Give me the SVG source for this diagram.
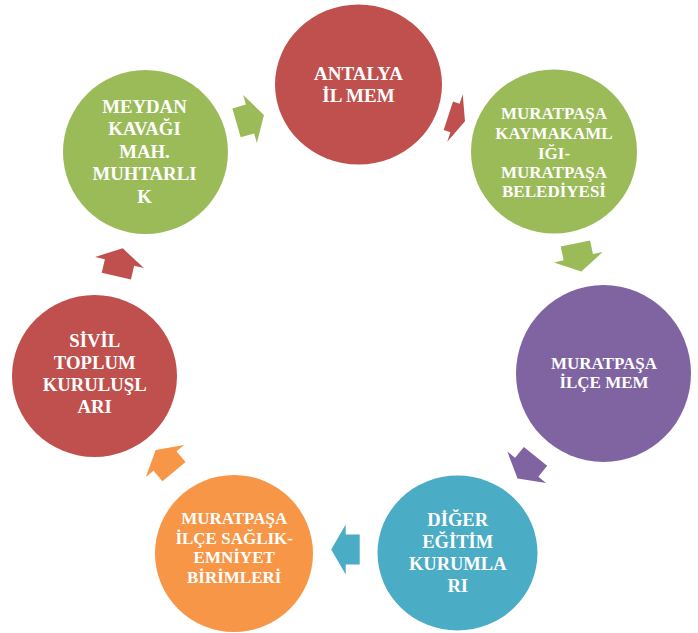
<svg xmlns="http://www.w3.org/2000/svg" xmlns:xlink="http://www.w3.org/1999/xlink" width="698" height="633" viewBox="0 0 698 633">
<style>
.t{font-family:"Liberation Serif","Times New Roman",serif;font-weight:bold;fill:#FFFFFF;text-anchor:middle}
.red{fill:#C0504D}.green{fill:#9BBB59}.purple{fill:#8064A2}.teal{fill:#4BACC6}.orange{fill:#F79646}
</style>
<defs>
<path id="arr" d="M-14,-15 H0 V-25 L14.5,0 L0,25 V15 H-14 Z"/>
<path id="arrShort" d="M-7,-15 H0 V-25 L10.5,0 L0,25 V15 H-7 Z"/>
</defs>
<rect width="698" height="633" fill="#FFFFFF"/>
<g id="connectors">
<use xlink:href="#arr" class="green" transform="translate(250,119) rotate(-16)"/>
<use xlink:href="#arrShort" class="red" transform="translate(455,118) rotate(18)"/>
<use xlink:href="#arr" class="green" transform="translate(578.3,257.2) rotate(78)"/>
<use xlink:href="#arr" class="purple" transform="translate(526.7,467.2) rotate(129)"/>
<use xlink:href="#arr" class="teal" transform="translate(345.7,549.5) rotate(180)"/>
<use xlink:href="#arr" class="orange" transform="translate(165,461) rotate(-130)"/>
<use xlink:href="#arr" class="red" transform="translate(119.5,262.5) rotate(-77)"/>
</g>
<g id="n1">
<ellipse class="red" cx="358.5" cy="84.5" rx="83.5" ry="80"/>
<text class="t" font-size="19"><tspan x="358.5" y="80">ANTALYA</tspan><tspan x="358.5" y="101.7">İL MEM</tspan></text>
</g>
<g id="n2">
<ellipse class="green" cx="554" cy="151.5" rx="83" ry="82"/>
<text class="t" font-size="17"><tspan x="554" y="119.3">MURATPAŞA</tspan><tspan x="554" y="139.3">KAYMAKAML</tspan><tspan x="554" y="159.3">IĞI-</tspan><tspan x="554" y="178.3">MURATPAŞA</tspan><tspan x="554" y="196.7">BELEDİYESİ</tspan></text>
</g>
<g id="n3">
<ellipse class="purple" cx="603.5" cy="373.5" rx="87.5" ry="88.5"/>
<text class="t" font-size="17"><tspan x="604" y="369.3">MURATPAŞA</tspan><tspan x="604" y="388.3">İLÇE MEM</tspan></text>
</g>
<g id="n4">
<ellipse class="teal" cx="457.5" cy="553" rx="80" ry="77.5"/>
<text class="t" font-size="18.5"><tspan x="457.7" y="526">DİĞER</tspan><tspan x="457.7" y="548.3">EĞİTİM</tspan><tspan x="457.7" y="570">KURUMLA</tspan><tspan x="457.7" y="591.7">RI</tspan></text>
</g>
<g id="n5">
<ellipse class="orange" cx="234" cy="553.5" rx="79" ry="78.5"/>
<text class="t" font-size="17"><tspan x="234.2" y="524">MURATPAŞA</tspan><tspan x="234.2" y="544">İLÇE SAĞLIK-</tspan><tspan x="234.2" y="563.3">EMNİYET</tspan><tspan x="234.2" y="582.7">BİRİMLERİ</tspan></text>
</g>
<g id="n6">
<ellipse class="red" cx="94.5" cy="376" rx="82.5" ry="81"/>
<text class="t" font-size="18.7"><tspan x="94.7" y="347.3">SİVİL</tspan><tspan x="94.7" y="369.3">TOPLUM</tspan><tspan x="94.7" y="391">KURULUŞL</tspan><tspan x="94.7" y="413.3">ARI</tspan></text>
</g>
<g id="n7">
<ellipse class="green" cx="145.5" cy="152" rx="82.5" ry="82"/>
<text class="t" font-size="18.8"><tspan x="144.5" y="113.3">MEYDAN</tspan><tspan x="144.5" y="135">KAVAĞI</tspan><tspan x="144.5" y="157.7">MAH.</tspan><tspan x="144.5" y="180">MUHTARLI</tspan><tspan x="144.5" y="202.7">K</tspan></text>
</g>
</svg>
